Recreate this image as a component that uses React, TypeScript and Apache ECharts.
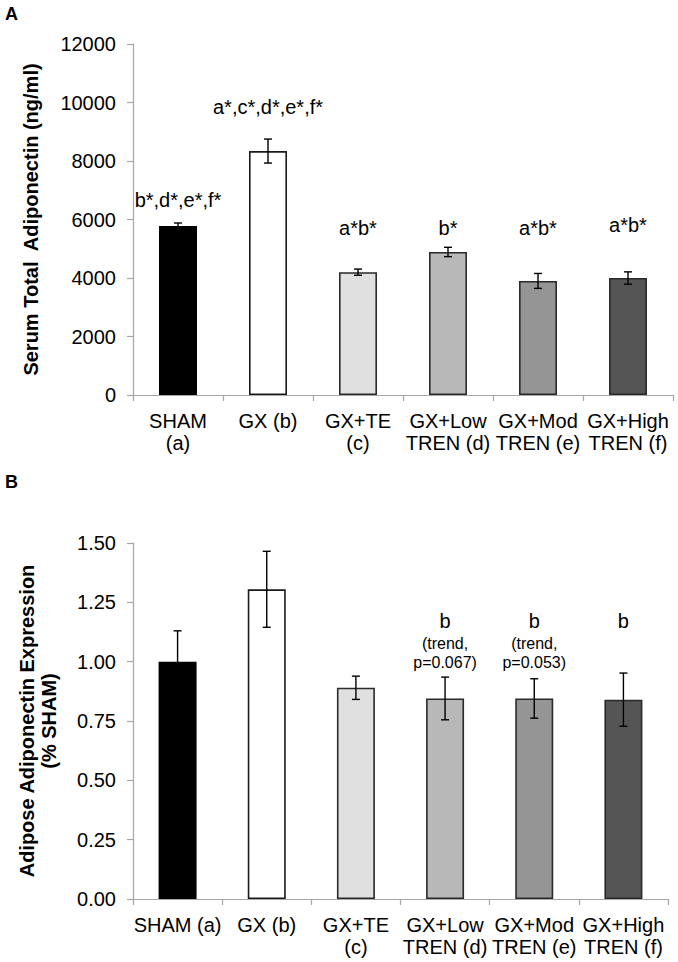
import React, { useEffect, useRef } from "react";
import * as echarts from "echarts";

const categoriesA = ["SHAM\n(a)", "GX (b)", "GX+TE\n(c)", "GX+Low\nTREN (d)", "GX+Mod\nTREN (e)", "GX+High\nTREN (f)"];
const categoriesB = ["SHAM (a)", "GX (b)", "GX+TE\n(c)", "GX+Low\nTREN (d)", "GX+Mod\nTREN (e)", "GX+High\nTREN (f)"];

const serumMean = [5780, 8340, 4200, 4890, 3900, 4000];
const serumErr = [100, 410, 105, 160, 255, 210];
const serumNotes = ["b*,d*,e*,f*", "a*,c*,d*,e*,f*", "a*b*", "b*", "a*b*", "a*b*"];
const serumNoteY = [6670, 9840, 5720, 5720, 5720, 5810];

const expressionMean = [1.0, 1.305, 0.89, 0.845, 0.845, 0.84];
const expressionErr = [0.13, 0.16, 0.049, 0.09, 0.083, 0.112];
const expressionNotes = ["", "", "", "b", "b", "b"];
const expressionSubNotes = [[], [], [], ["(trend,", "p=0.067)"], ["(trend,", "p=0.053)"], []];
const expressionNoteY = [0, 0, 0, 1.17, 1.17, 1.17];

const barColors = ["#000000", "#ffffff", "#e0e0e0", "#b8b8b8", "#959595", "#555555"];
const borderColors = ["#000000", "#1a1a1a", "#2a2a2a", "#2a2a2a", "#2a2a2a", "#2a2a2a"];

const FONT = "'Liberation Sans', Arial, Helvetica, sans-serif";
const AXIS_GRAY = "#a6a6a6";

function xAxisFor(data: string[], gridIndex: number) {
  return {
    type: "category",
    gridIndex,
    data,
    axisLine: { show: true, lineStyle: { color: AXIS_GRAY, width: 1.2 } },
    axisTick: { show: true, length: 6, lineStyle: { color: AXIS_GRAY, width: 1.2 } },
    axisLabel: { interval: 0, fontSize: 20, lineHeight: 22, color: "#000", fontFamily: FONT, margin: 15 },
    splitLine: { show: false },
  };
}

function yAxisFor(gridIndex: number, max: number, interval: number, name: string, nameGap: number, digits: number) {
  return {
    type: "value",
    gridIndex,
    min: 0,
    max,
    interval,
    name,
    nameLocation: "middle",
    nameGap,
    nameTextStyle: { fontSize: 20, fontWeight: "bold", color: "#000", fontFamily: FONT, lineHeight: 22 },
    axisLine: { show: true, lineStyle: { color: AXIS_GRAY, width: 1.2 } },
    axisTick: { show: true, length: 6, lineStyle: { color: AXIS_GRAY, width: 1.2 } },
    axisLabel: {
      fontSize: 20,
      color: "#000",
      fontFamily: FONT,
      margin: 17,
      formatter: (v: number) => v.toFixed(digits),
    },
    splitLine: { show: false },
  };
}

function barSeries(values: number[], idx: number) {
  return {
    type: "bar",
    xAxisIndex: idx,
    yAxisIndex: idx,
    barWidth: 38,
    data: values.map((v, i) => ({
      value: v,
      itemStyle: { color: barColors[i], borderColor: borderColors[i], borderWidth: 1.6 },
    })),
    z: 2,
  };
}

function errorSeries(values: number[], errs: number[], idx: number) {
  return {
    type: "custom",
    xAxisIndex: idx,
    yAxisIndex: idx,
    data: values.map((v, i) => [i, v, errs[i]]),
    z: 5,
    renderItem: (params: any, api: any) => {
      const x = api.value(0);
      const v = api.value(1);
      const e = api.value(2);
      const top = api.coord([x, v + e]);
      const bot = api.coord([x, v - e]);
      const half = 4;
      const style = { stroke: "#000", lineWidth: 1.4 };
      return {
        type: "group",
        children: [
          { type: "line", shape: { x1: top[0], y1: top[1], x2: bot[0], y2: bot[1] }, style },
          { type: "line", shape: { x1: top[0] - half, y1: top[1], x2: top[0] + half, y2: top[1] }, style },
          { type: "line", shape: { x1: bot[0] - half, y1: bot[1], x2: bot[0] + half, y2: bot[1] }, style },
        ],
      };
    },
  };
}

export default function App() {
  const ref = useRef<HTMLDivElement>(null);

  useEffect(() => {
    if (!ref.current) return;
    const chart = echarts.init(ref.current, undefined, { renderer: "svg" });

    const option: any = {
      animation: false,
      backgroundColor: "#ffffff",
      textStyle: { fontFamily: FONT },
      graphic: [
        { type: "text", left: 5, top: 5, style: { text: "A", fontSize: 18, fontWeight: "bold", fill: "#000", fontFamily: FONT } },
        { type: "text", left: 5, top: 473, style: { text: "B", fontSize: 18, fontWeight: "bold", fill: "#000", fontFamily: FONT } },
      ],
      grid: [
        { left: 133, right: 5, top: 44, bottom: 567, containLabel: false },
        { left: 133, right: 10, top: 543, bottom: 63, containLabel: false },
      ],
      xAxis: [xAxisFor(categoriesA, 0), xAxisFor(categoriesB, 1)],
      yAxis: [
        yAxisFor(0, 12000, 2000, "Serum Total  Adiponectin (ng/ml)", 91, 0),
        yAxisFor(1, 1.5, 0.25, "Adipose Adiponectin Expression\n(% SHAM)", 73, 2),
      ],
      series: [
        barSeries(serumMean, 0),
        errorSeries(serumMean, serumErr, 0),
        {
          type: "custom",
          xAxisIndex: 0,
          yAxisIndex: 0,
          data: serumNoteY.map((y, i) => [i, y]),
          z: 6,
          renderItem: (params: any, api: any) => {
            const p = api.coord([api.value(0), api.value(1)]);
            return {
              type: "text",
              x: p[0],
              y: p[1],
              style: {
                text: serumNotes[params.dataIndex],
                fontSize: 20,
                fontFamily: FONT,
                fill: "#000",
                align: "center",
                verticalAlign: "middle",
              },
            };
          },
        },
        barSeries(expressionMean, 1),
        errorSeries(expressionMean, expressionErr, 1),
        {
          type: "custom",
          xAxisIndex: 1,
          yAxisIndex: 1,
          data: expressionNoteY.map((y, i) => [i, y]),
          z: 6,
          renderItem: (params: any, api: any) => {
            const i = params.dataIndex;
            if (!expressionNotes[i]) return null;
            const p = api.coord([api.value(0), api.value(1)]);
            const children: any[] = [
              {
                type: "text",
                x: p[0],
                y: p[1],
                style: { text: expressionNotes[i], fontSize: 20, fontFamily: FONT, fill: "#000", align: "center", verticalAlign: "middle" },
              },
            ];
            expressionSubNotes[i].forEach((t, k) => {
              children.push({
                type: "text",
                x: p[0],
                y: p[1] + 22 + k * 19,
                style: { text: t, fontSize: 16, fontFamily: FONT, fill: "#000", align: "center", verticalAlign: "middle" },
              });
            });
            return { type: "group", children };
          },
        },
      ],
    };

    chart.setOption(option);
    return () => chart.dispose();
  }, []);

  return (
    <div
      ref={ref}
      style={{ position: "absolute", left: 0, top: 0, width: 678, height: 962, background: "#fff" }}
    />
  );
}
